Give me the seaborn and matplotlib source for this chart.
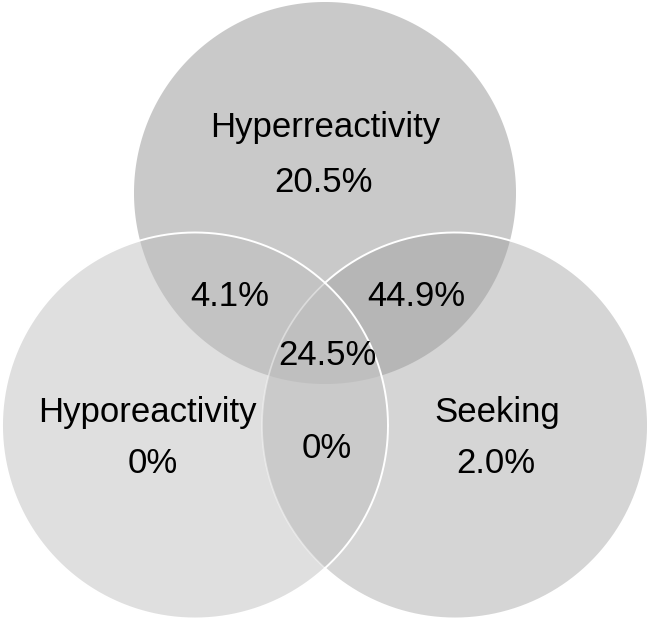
import numpy as np
import seaborn as sns
import matplotlib.pyplot as plt

# --- data ---
set_names = ['Hyperreactivity', 'Hyporeactivity', 'Seeking']
# region keys: which sets the region belongs to (T=top, L=left, R=right)
region_keys = ['T', 'L', 'R', 'TL', 'TR', 'LR', 'TLR']
region_values = ['20.5%', '0%', '2.0%', '4.1%', '44.9%', '0%', '24.5%']

# --- layout (pixel-like coordinates, y grows downward) ---
W, H = 648, 621
circles = {'T': (325, 193, 191), 'L': (195, 425.5, 193), 'R': (455, 425.5, 193)}
region_colors = {'T': '#c9c9c9', 'L': '#dfdfdf', 'R': '#d5d5d5',
                 'TL': '#c3c3c3', 'TR': '#b6b6b6', 'LR': '#cacaca', 'TLR': '#bfbfbf'}
label_pos = {'T': (325, 137), 'L': (147, 422), 'R': (497, 422)}
value_pos = {'T': (324, 192), 'L': (153, 473), 'R': (496, 473),
             'TL': (230, 306), 'TR': (416, 306), 'LR': (327, 458), 'TLR': (327, 365)}

sns.set_theme(style="white")
plt.rcParams['font.family'] = ['Liberation Sans', 'DejaVu Sans']


def circle_pts(key, n=1440):
    cx, cy, r = circles[key]
    t = np.linspace(0, 2 * np.pi, n, endpoint=False)
    return np.column_stack([cx + r * np.cos(t), cy + r * np.sin(t)])


def inside(pts, key, tol=0.01):
    cx, cy, r = circles[key]
    return np.hypot(pts[:, 0] - cx, pts[:, 1] - cy) <= r + tol


def intersection_polygon(keys):
    # intersection of circles is convex: gather boundary points inside all others
    parts = []
    for k in keys:
        p = circle_pts(k)
        mask = np.ones(len(p), bool)
        for other in keys:
            if other != k:
                mask &= inside(p, other)
        parts.append(p[mask])
    pts = np.vstack(parts)
    c = pts.mean(axis=0)
    order = np.argsort(np.arctan2(pts[:, 1] - c[1], pts[:, 0] - c[0]))
    return pts[order]


fig = plt.figure(figsize=(W / 100, H / 100), dpi=100)
ax = fig.add_axes([0, 0, 1, 1])
ax.set_xlim(0, W)
ax.set_ylim(H, 0)
ax.set_aspect('equal')
ax.axis('off')

# single-set base fills, then pairwise, then triple overlap
for key in region_keys:
    poly = intersection_polygon(list(key))
    ax.fill(poly[:, 0], poly[:, 1], color=region_colors[key], lw=0, zorder=len(key))

# white outlines: left circle full, right circle faded where it lies under the left one
pl = circle_pts('L', 2880)
pl = np.vstack([pl, pl[:1]])
ax.plot(pl[:, 0], pl[:, 1], color='white', lw=1.4, zorder=5)

t = np.linspace(0, 2 * np.pi, 2881)
cx, cy, r = circles['R']
xr, yr = cx + r * np.cos(t), cy + r * np.sin(t)
under = inside(np.column_stack([xr, yr]), 'L', tol=-0.5)
ax.plot(np.where(under, np.nan, xr), yr, color='white', lw=1.4, zorder=5)
ax.plot(np.where(under, xr, np.nan), yr, color='white', lw=1.2, alpha=0.45, zorder=5)

for key, name in zip(['T', 'L', 'R'], set_names):
    x, y = label_pos[key]
    ax.text(x, y, name, ha='center', va='baseline', fontsize=25, color='black', zorder=6)

for key, val in zip(region_keys, region_values):
    x, y = value_pos[key]
    ax.text(x, y, val, ha='center', va='baseline', fontsize=25, color='black', zorder=6)

fig.savefig('out.png', dpi=100, facecolor='white')
